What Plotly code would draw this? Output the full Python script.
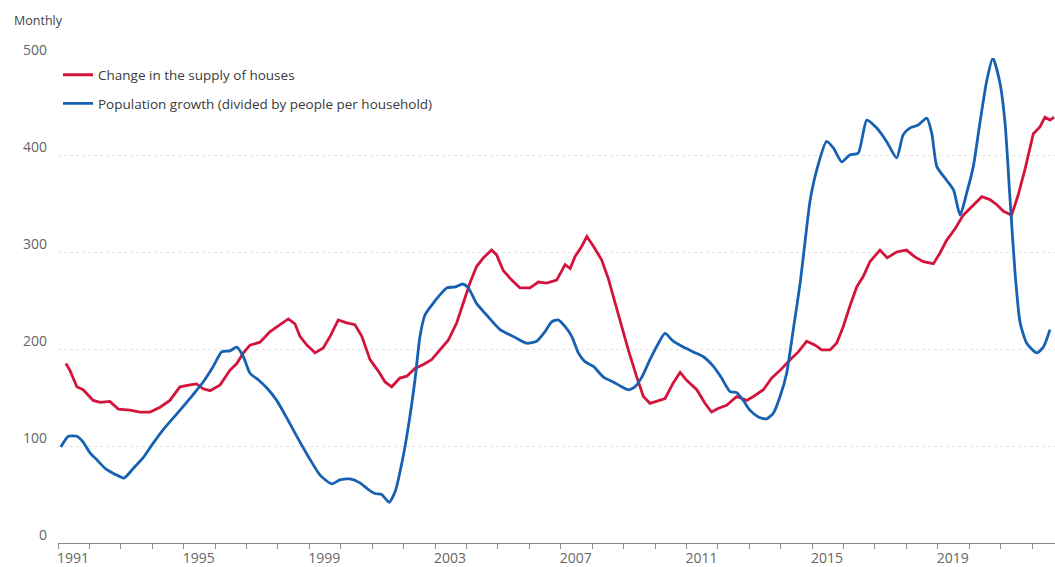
import plotly.graph_objects as go

# ---- data ----
red_name = "Change in the supply of houses"
blue_name = "Population growth (divided by people per household)"

red_x = [1991.25,1991.38,1991.6,1991.8,1992.12,1992.34,1992.65,1992.92,1993.29,1993.61,1993.93,
         1994.25,1994.56,1994.88,1995.2,1995.41,1995.62,1995.84,1996.16,1996.47,1996.69,1996.9,
         1997.11,1997.43,1997.75,1998.07,1998.33,1998.54,1998.7,1998.92,1999.18,1999.44,1999.66,1999.92,
         2000.19,2000.45,2000.67,2000.93,2001.2,2001.41,2001.62,2001.88,2002.1,2002.36,2002.63,2002.89,
         2003.16,2003.42,2003.69,2003.9,2004.11,2004.32,2004.54,2004.8,2004.96,2005.17,2005.44,2005.7,
         2006.02,2006.29,2006.55,2006.87,2007.14,2007.3,2007.45,2007.67,2007.83,2008.04,2008.3,2008.51,
         2008.67,2008.89,2009.15,2009.42,2009.63,2009.84,2010.06,2010.32,2010.58,2010.8,2011.0,2011.33,
         2011.59,2011.8,2012.02,2012.28,2012.6,2012.92,2013.13,2013.45,2013.71,2013.98,2014.3,2014.56,
         2014.83,2015.1,2015.3,2015.57,2015.78,2015.99,2016.2,2016.42,2016.63,2016.84,2017.16,2017.39,
         2017.69,2018.0,2018.27,2018.54,2018.86,2019.07,2019.28,2019.55,2019.81,2020.08,2020.4,2020.66,
         2020.87,2021.09,2021.35,2021.56,2021.78,2022.04,2022.25,2022.41,2022.57,2022.7]
red_y = [185,178,161,158,147,145,146,138,137,135,135,
         140,147,161,163,164,159,157,163,178,185,196,
         204,207,218,225,231,226,213,204,196,201,213,230,
         227,225,213,189,177,166,161,170,172,180,184,189,
         199,209,227,247,268,285,294,302,297,281,271,263,
         263,269,268,271,287,283,295,306,316,306,292,273,
         254,227,199,171,151,144,146,149,165,176,168,158,
         144,135,139,142,151,147,151,158,170,178,189,197,
         208,204,199,199,206,223,244,264,275,290,302,294,
         300,302,295,290,288,299,312,324,338,347,357,354,
         349,342,338,359,386,422,429,439,436,439]

blue_x = [1991.09,1991.33,1991.6,1991.8,1992.02,1992.23,1992.5,1992.81,1993.1,1993.4,1993.71,
          1994.03,1994.35,1994.67,1994.99,1995.3,1995.62,1995.94,1996.21,1996.47,1996.69,1996.9,
          1997.11,1997.38,1997.64,1997.96,1998.28,1998.6,1998.97,1999.34,1999.71,1999.97,2000.29,
          2000.61,2000.88,2001.09,2001.3,2001.54,2001.73,2001.94,2002.15,2002.36,2002.52,2002.68,
          2002.89,2003.16,2003.37,2003.64,2003.88,2004.06,2004.32,2004.64,2005.07,2005.49,2005.92,
          2006.23,2006.5,2006.71,2006.92,2007.14,2007.35,2007.56,2007.77,2008.04,2008.36,2008.67,
          2008.94,2009.15,2009.36,2009.58,2009.84,2010.11,2010.32,2010.58,2010.9,2011.22,2011.54,
          2011.86,2012.12,2012.39,2012.6,2012.81,2013.02,2013.29,2013.55,2013.77,2013.98,2014.19,
          2014.4,2014.62,2014.78,2014.94,2015.15,2015.46,2015.68,2015.94,2016.2,2016.47,2016.74,
          2017.05,2017.37,2017.69,2017.9,2018.12,2018.38,2018.65,2018.81,2018.97,2019.28,2019.5,
          2019.71,2019.92,2020.13,2020.34,2020.56,2020.75,2020.98,2021.14,2021.3,2021.46,2021.62,
          2021.83,2022.15,2022.36,2022.57]
blue_y = [99,110,110,104,93,86,77,71,67,77,88,
          103,117,129,141,153,166,182,197,198,202,192,
          175,168,160,147,129,110,89,70,61,65,66,
          62,55,51,50,42,53,82,120,168,213,235,
          245,256,263,264,267,263,247,235,220,213,206,
          208,218,228,230,223,213,196,187,182,171,166,
          161,158,161,171,189,206,216,208,202,197,192,
          182,170,156,155,147,137,130,128,134,151,175,
          220,268,312,354,385,414,407,393,400,402,436,
          428,414,397,421,428,431,438,422,388,374,364,
          338,361,388,433,477,500,474,433,354,278,227,
          206,196,202,220]

year_ticks = list(range(1991, 2023))
year_labels = [str(y) if (y - 1991) % 4 == 0 else "" for y in year_ticks]
y_ticks = [0, 100, 200, 300, 400, 500]

RED = "#d3143c"
BLUE = "#1661b2"
FONT = "Open Sans, Noto Sans, sans-serif"

fig = go.Figure()
fig.add_trace(go.Scatter(x=red_x, y=red_y, mode="lines", name=red_name,
                         legendgroup="a",
                         line=dict(color=RED, width=2.8)))
fig.add_trace(go.Scatter(x=blue_x, y=blue_y, mode="lines", name=blue_name,
                         legendgroup="b",
                         line=dict(color=BLUE, width=2.8, shape="spline", smoothing=0.6)))

fig.update_layout(
    width=1055, height=567,
    margin=dict(l=58, r=0, t=58, b=24, autoexpand=False),
    paper_bgcolor="white", plot_bgcolor="white",
    font=dict(family=FONT, color="#555555", size=14),
    showlegend=True,
    legend=dict(x=0.0, y=0.997, xanchor="left", yanchor="top",
                bgcolor="rgba(0,0,0,0)", font=dict(size=13.5, color="#3a3a3a"),
                tracegroupgap=8, itemwidth=30),
    xaxis=dict(range=[1991, 2022.73], tickmode="array", tickvals=year_ticks,
               ticktext=year_labels, ticks="outside", ticklen=5, tickcolor="#8a8a8a",
               showline=True, linecolor="#8a8a8a", linewidth=1, showgrid=False,
               zeroline=False, ticklabelshift=15, ticklabelstandoff=-3, automargin=False,
               tickfont=dict(size=14, color="#666666")),
    yaxis=dict(range=[0, 500], tickmode="array", tickvals=y_ticks,
               showgrid=True, gridcolor="#e3e3e3", griddash="dot", gridwidth=1,
               zeroline=False, showline=False, ticks="", automargin=False,
               ticklabelshift=-8, ticklabelstandoff=10,
               tickfont=dict(size=14, color="#666666")),
    annotations=[dict(text="Monthly", xref="paper", yref="paper",
                      x=-46/997, y=1 + 38/485, xanchor="left", yanchor="middle",
                      showarrow=False, font=dict(size=12.5, color="#444444"))],
)

fig.write_html("out.html", config={"displayModeBar": False},
               post_script="document.body.style.margin='0px';document.body.style.overflow='hidden';")
